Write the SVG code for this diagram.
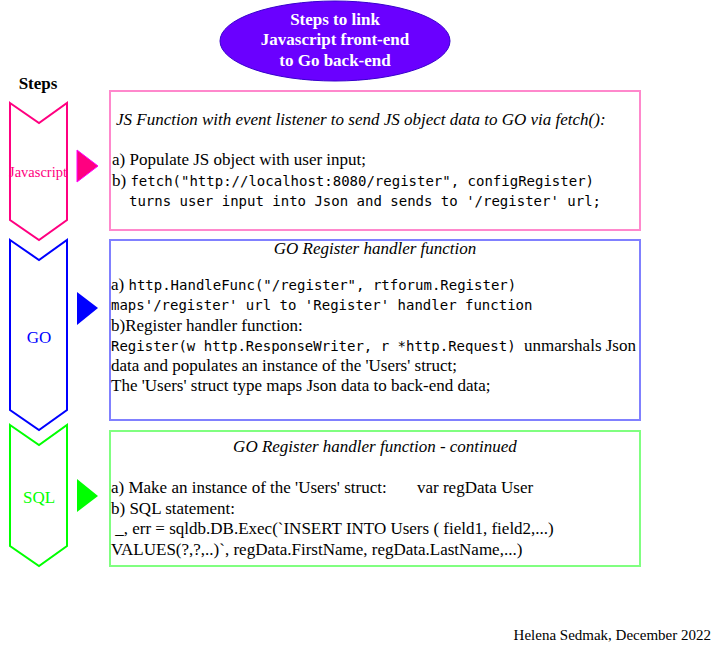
<svg xmlns="http://www.w3.org/2000/svg" width="728" height="650" viewBox="0 0 728 650">
<style>
.s{font-family:"Liberation Serif",serif;font-size:17px;fill:#000}
.i{font-style:italic}
.m{font-family:"DejaVu Sans Mono",monospace;font-size:14px}
.b{font-weight:bold}
.box{fill:#fff;stroke-width:2}
.chev{fill:#fff;stroke-width:2}
</style>
<rect width="728" height="650" fill="#fff"/>
<g id="title">
<ellipse cx="335" cy="41" rx="115" ry="40" fill="#6a00ff" stroke="#3700cc" stroke-width="1"/>
<text class="s b" x="335" y="25" text-anchor="middle" style="fill:#fff">Steps to link</text>
<text class="s b" x="335" y="45" text-anchor="middle" style="fill:#fff">Javascript front-end</text>
<text class="s b" x="335" y="66" text-anchor="middle" style="fill:#fff">to Go back-end</text>
</g>
<g id="steps-label"><text class="s b" x="38" y="89" text-anchor="middle">Steps</text></g>
<g id="step-js">
<polygon class="chev" points="10,103 39,123 67,103 67,220 39,240 10,220" stroke="#ff0080"/>
<text x="38" y="177" text-anchor="middle" font-family="Liberation Serif,serif" font-size="14.5" fill="#ff0080">Javascript</text>
</g>
<g id="step-go">
<polygon class="chev" points="10,240 39,260 67,240 67,410 39,430 10,410" stroke="#0000ff"/>
<text x="39" y="343" text-anchor="middle" font-family="Liberation Serif,serif" font-size="17" fill="#0000ff">GO</text>
</g>
<g id="step-sql">
<polygon class="chev" points="10,425 39,445 67,425 67,546 39,566 10,546" stroke="#00ff00"/>
<text x="39" y="503" text-anchor="middle" font-family="Liberation Serif,serif" font-size="17" fill="#00ff00">SQL</text>
</g>
<g id="connectors">
<polygon points="77,150 98,166 77,182" fill="#ff0080" stroke="#ff00ff" stroke-width="1"/>
<polygon points="77,292 98,308 77,325" fill="#0000ff"/>
<polygon points="77,479 98,496 77,512" fill="#00ff00"/>
</g>
<g id="box-js">
<rect class="box" x="110" y="91" width="530" height="139" stroke="#ff88cc"/>
<text class="s i" x="116" y="125">JS Function with event listener to send JS object data to GO via fetch():</text>
<text class="s" x="112" y="165">a) Populate JS object with user input;</text>
<text class="s" x="112" y="186">b) <tspan class="m">fetch("http://localhost:8080/register", configRegister)</tspan></text>
<text class="s m" x="129" y="206">turns user input into Json and sends to '/register' url;</text>
</g>
<g id="box-go">
<rect class="box" x="110" y="240" width="530" height="180" stroke="#8080ff"/>
<text class="s i" x="375" y="254" text-anchor="middle">GO Register handler function</text>
<text class="s" x="111" y="290">a) <tspan class="m">http.HandleFunc("/register", rtforum.Register)</tspan></text>
<text class="s m" x="111" y="310">maps'/register' url to 'Register' handler function</text>
<text class="s" x="111" y="331">b)Register handler function:</text>
<text class="s" x="111" y="351" xml:space="preserve"><tspan class="m">Register(w http.ResponseWriter, r *http.Request)</tspan>  unmarshals Json</text>
<text class="s" x="111" y="371">data and populates an instance of the 'Users' struct;</text>
<text class="s" x="111" y="391">The 'Users' struct type maps Json data to back-end data;</text>
</g>
<g id="box-sql">
<rect class="box" x="110" y="431" width="530" height="135" stroke="#80ff80"/>
<text class="s i" x="375" y="452" text-anchor="middle">GO Register handler function - continued</text>
<text class="s" x="111" y="493">a) Make an instance of the 'Users' struct:<tspan x="417">var regData User</tspan></text>
<text class="s" x="111" y="514">b) SQL statement:</text>
<text class="s" x="111" y="534" xml:space="preserve"> _, err = sqldb.DB.Exec(`INSERT INTO Users ( field1, field2,...)</text>
<text class="s" x="111" y="555">VALUES(?,?,..)`, regData.FirstName, regData.LastName,...)</text>
</g>
<g id="footer"><text x="711" y="640" text-anchor="end" font-family="Liberation Serif,serif" font-size="15">Helena Sedmak, December 2022</text></g>
</svg>
